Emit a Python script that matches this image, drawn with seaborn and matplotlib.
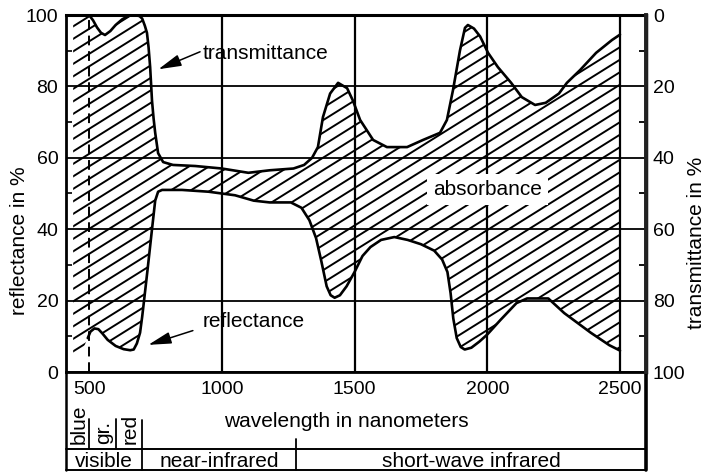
import numpy as np
import pandas as pd
import matplotlib
matplotlib.use("Agg")
import matplotlib.pyplot as plt
import seaborn as sns
from matplotlib.collections import LineCollection
from matplotlib.transforms import blended_transform_factory

# ---- spectral curves of a green leaf -------------------------------------
refl_wl = [440, 460, 480, 495, 505, 520, 535, 550, 570, 600, 630, 655, 668, 680, 692,
           700, 707, 720, 737, 749, 760, 775, 800, 850, 950, 1050, 1120, 1180, 1260, 1300,
           1330, 1355, 1375, 1395, 1410, 1425, 1445, 1470, 1500, 1530, 1560, 1600, 1650,
           1700, 1750, 1800, 1830, 1850, 1862, 1872, 1885, 1900, 1915, 1940, 1970, 2000,
           2050, 2110, 2150, 2230, 2290, 2390, 2460, 2500]
reflectance = [4.5, 5.5, 7.0, 9.5, 11.3, 12.2, 12.0, 10.8, 9.0, 7.3, 6.4, 6.1, 6.3, 8.0, 11.0,
               15.5, 20.0, 28.5, 40.0, 48.0, 50.5, 51.0, 51.0, 51.0, 50.5, 49.5, 48.0, 47.5, 47.5, 46.0,
               42.5, 37.5, 31.0, 24.0, 21.5, 20.8, 21.5, 24.0, 28.0, 32.5, 35.0, 37.0, 37.8,
               37.0, 35.8, 34.0, 31.5, 28.0, 22.0, 15.0, 9.5, 7.0, 6.3, 6.8, 8.5, 10.5,
               14.6, 19.3, 20.6, 20.6, 16.5, 11.0, 7.5, 6.0]

trans_wl = [440, 500, 515, 530, 545, 560, 580, 600, 625, 650, 670, 690, 700, 710, 718,
            724, 730, 737, 743, 749, 760, 779, 816, 900, 1000, 1100, 1180, 1270, 1310, 1340,
            1362, 1381, 1408, 1438, 1472, 1494, 1521, 1570, 1622, 1698, 1758, 1822, 1848,
            1871, 1897, 1916, 1927, 1950, 1973, 2003, 2040, 2090, 2130, 2180, 2220, 2270,
            2300, 2350, 2410, 2470, 2500]
transmittance = [0, 0, 1.5, 3.5, 5.0, 5.6, 4.5, 2.8, 1.2, 0.2, 0, 0.3, 1.0, 3.0, 5.0,
                 9.0, 14.6, 24.0, 29.0, 33.0, 38.7, 41.2, 42.0, 42.3, 43.0, 44.2, 43.5, 43.0, 42.0, 40.0,
                 37.0, 28.6, 22.0, 19.0, 20.5, 24.0, 29.4, 35.0, 37.0, 37.0, 35.0, 33.0, 29.4,
                 21.0, 10.0, 3.6, 2.8, 3.8, 6.0, 10.6, 14.6, 19.0, 23.0, 25.2, 24.6, 22.0,
                 19.0, 15.4, 10.6, 7.0, 5.5]

x_ticks = [500, 1000, 1500, 2000, 2500]
y_ticks = [0, 20, 40, 60, 80, 100]
minor_ticks = [10, 30, 50, 70, 90]
color_bands = ["blue", "gr.", "red"]
color_edges = [500, 600, 700]
regions = ["visible", "near-infrared", "short-wave infrared"]
region_edges = [700, 1280]
XMIN, XMAX = 413, 2598

refl_df = pd.DataFrame({"wavelength": refl_wl, "reflectance": reflectance})
trans_df = pd.DataFrame({"wavelength": trans_wl, "transmittance": transmittance})
trans_df["upper"] = 100 - trans_df["transmittance"]

sns.set_theme(style="white")
plt.rcParams["font.family"] = ["Liberation Sans", "DejaVu Sans"]
plt.rcParams["axes.edgecolor"] = "black"
plt.rcParams["text.color"] = "black"
plt.rcParams["axes.labelcolor"] = "black"
plt.rcParams["xtick.color"] = "black"
plt.rcParams["ytick.color"] = "black"

W, H = 706, 473
fig = plt.figure(figsize=(W / 100, H / 100), dpi=100)
ax = fig.add_axes([66 / W, 1 - 372 / H, 580 / W, 357 / H])
ax.set_xlim(XMIN, XMAX)
ax.set_ylim(0, 100)


def fy(py):
    """Vertical position below/inside the axes in axes-fraction units."""
    return (372 - py) / 357.0


# grid
ax.set_xticks(x_ticks)
ax.set_yticks(y_ticks)
ax.set_yticks(minor_ticks, minor=True)
ax.grid(True, which="major", color="black", linewidth=1.6)
ax.set_axisbelow(True)
ax.get_xgridlines()[0].set_linestyle((0, (5, 3)))
ax.get_xgridlines()[0].set_linewidth(1.4)
for gl in ax.get_ygridlines():
    gl.set_linewidth(1.3)

# absorbance band between the two curves, with hand-drawn style hatching
region = ax.fill(np.r_[refl_df["wavelength"], trans_df["wavelength"][::-1]],
                 np.r_[refl_df["reflectance"], trans_df["upper"][::-1]],
                 facecolor="none", edgecolor="none")[0]
slope = np.tan(np.radians(32)) * 580 / 357
step = 12.5 / 357
offsets = np.arange(-slope - 0.2, 1.2, step)
segs = [[(-0.05, -0.05 * slope + c), (1.05, 1.05 * slope + c)] for c in offsets]
hatch = LineCollection(segs, colors="black", linewidths=1.4,
                       transform=ax.transAxes, zorder=2)
hatch.set_clip_path(region)
ax.add_collection(hatch)

# outlines
sns.lineplot(data=refl_df[refl_df["wavelength"] >= 495], x="wavelength", y="reflectance",
             ax=ax, color="black", linewidth=1.9, estimator=None, sort=False, zorder=3)
sns.lineplot(data=trans_df[trans_df["wavelength"] >= 500], x="wavelength", y="upper",
             ax=ax, color="black", linewidth=1.9, estimator=None, sort=False, zorder=3)

# annotations
arrow = dict(arrowstyle="-|>,head_length=0.7,head_width=0.18", color="black",
             lw=1.1, shrinkA=0, shrinkB=0, mutation_scale=20)
ax.annotate("", xy=(761, 84.8), xytext=(918, 89.7), arrowprops=arrow, zorder=4)
ax.annotate("", xy=(723, 7.6), xytext=(891, 11.6), arrowprops=arrow, zorder=4)
ax.text(926, 87.6, "transmittance", fontsize=15, ha="left", va="baseline", zorder=4)
ax.text(926, 12.7, "reflectance", fontsize=15, ha="left", va="baseline", zorder=4)
ax.text(2000, 49.6, "absorbance", fontsize=15, ha="center", va="baseline", zorder=5,
        bbox=dict(boxstyle="square,pad=0.3", fc="white", ec="none"))

# axes styling
ax.set_xlabel("")
ax.set_ylabel("")
ax.tick_params(axis="x", length=0, pad=6.5, labelsize=14, colors="black")
ax.tick_params(axis="y", which="major", length=0, pad=5.5, labelsize=14, colors="black")
ax.tick_params(axis="y", which="minor", left=True, direction="in", length=4,
               width=1.2, color="black")
for side, lw in [("left", 2.0), ("top", 2.2), ("bottom", 2.0), ("right", 2.5)]:
    ax.spines[side].set_linewidth(lw)
    ax.spines[side].set_color("black")

ax2 = ax.twinx()
ax2.set_ylim(100, 0)
ax2.set_yticks(y_ticks)
ax2.set_yticks(minor_ticks, minor=True)
ax2.grid(False)
ax2.tick_params(axis="y", which="major", length=0, pad=5, labelsize=14, colors="black")
ax2.tick_params(axis="y", which="minor", right=True, direction="in", length=5,
                width=1.3, color="black")
for side in ["left", "top", "bottom"]:
    ax2.spines[side].set_visible(False)
ax2.spines["right"].set_linewidth(2.8)
ax2.spines["right"].set_color("#222222")

# axis titles
fig.text(25 / W, 1 - 241 / H, "reflectance in %", fontsize=15, rotation=90,
         rotation_mode="anchor", ha="center", va="baseline")
fig.text(702 / W, 1 - 243 / H, "transmittance in %", fontsize=15, rotation=90,
         rotation_mode="anchor", ha="center", va="baseline")
ax.text(0.483, fy(427), "wavelength in nanometers", fontsize=15, ha="center",
        va="baseline", transform=ax.transAxes)

# spectral band table under the axis
bt = blended_transform_factory(ax.transData, ax.transAxes)
line_kw = dict(color="black", clip_on=False)
ax.plot([0, 0], [0, fy(470)], transform=ax.transAxes, lw=1.8, **line_kw)
ax.plot([1, 1], [0, fy(470)], transform=ax.transAxes, lw=2.6, **line_kw)
ax.plot([0, 1], [fy(449), fy(449)], transform=ax.transAxes, lw=1.4, **line_kw)
ax.plot([0, 1], [fy(470), fy(470)], transform=ax.transAxes, lw=1.4, **line_kw)
for e in color_edges[:-1]:
    ax.plot([e, e], [fy(419), fy(449)], transform=bt, lw=1.3, **line_kw)
ax.plot([region_edges[0]] * 2, [fy(420), fy(470)], transform=bt, lw=1.3, **line_kw)
ax.plot([region_edges[1]] * 2, [fy(439), fy(470)], transform=bt, lw=1.3, **line_kw)

band_lo = [XMIN] + color_edges[:-1]
for name, lo, hi in zip(color_bands, band_lo, color_edges):
    ax.text((lo + hi) / 2 + 6, fy(444), name, fontsize=15, rotation=90,
            ha="center", va="bottom", transform=bt)
reg_bounds = [XMIN] + region_edges + [XMAX]
for name, lo, hi in zip(regions, reg_bounds[:-1], reg_bounds[1:]):
    ax.text((lo + hi) / 2, fy(466.5), name, fontsize=15, ha="center",
            va="baseline", transform=bt)

fig.savefig("out.png", dpi=100, facecolor="white")
